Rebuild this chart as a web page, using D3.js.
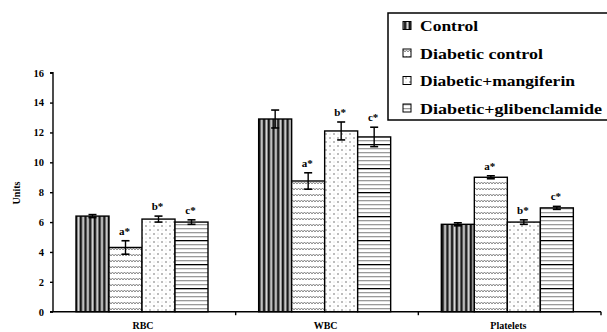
<!DOCTYPE html>
<html><head><meta charset="utf-8">
<script src="https://cdn.jsdelivr.net/npm/d3@7"></script>
<style>
html,body{margin:0;padding:0;background:#fff;}
svg text{font-family:"Liberation Serif","Tinos","DejaVu Serif",serif !important;font-weight:bold;fill:#000;}
</style></head>
<body>
<svg id="chart" width="607" height="332"></svg>
<script>
const categories = ["RBC", "WBC", "Platelets"];
const seriesNames = ["Control", "Diabetic control", "Diabetic+mangiferin", "Diabetic+glibenclamide"];
const control      = [6.4, 12.9, 5.85];
const diabetic     = [4.3, 8.75, 9.0];
const mangiferin   = [6.2, 12.1, 6.0];
const glibenclamide= [6.0, 11.7, 6.95];
const controlErr   = [0.1, 0.6, 0.1];
const diabeticErr  = [0.45, 0.55, 0.1];
const mangiferinErr= [0.2, 0.6, 0.15];
const glibErr      = [0.15, 0.65, 0.1];
const sigLabels    = ["", "a*", "b*", "c*"];
const yTicks       = [0, 2, 4, 6, 8, 10, 12, 14, 16];
const yLabel       = "Units";

const values = [control, diabetic, mangiferin, glibenclamide];
const errs = [controlErr, diabeticErr, mangiferinErr, glibErr];

const svg = d3.select("#chart");
const defs = svg.append("defs");

// Patterns
const p0 = defs.append("pattern").attr("id","pat0").attr("patternUnits","userSpaceOnUse")
  .attr("width",4.7).attr("height",10);
p0.append("rect").attr("width",4.7).attr("height",10).attr("fill","#8a8a8a");
p0.append("rect").attr("x",0).attr("width",1.7).attr("height",10).attr("fill","#111");
p0.append("rect").attr("x",2.9).attr("width",0.9).attr("height",10).attr("fill","#e0e0e0");

const p1 = defs.append("pattern").attr("id","pat1").attr("patternUnits","userSpaceOnUse")
  .attr("width",6).attr("height",6);
p1.append("rect").attr("width",6).attr("height",6).attr("fill","#fff");
p1.append("path").attr("d","M0,4 L1.5,2 L3,4 L4.5,2 L6,4").attr("fill","none").attr("stroke","#7a7a7a").attr("stroke-width",0.9);

const p2 = defs.append("pattern").attr("id","pat2").attr("patternUnits","userSpaceOnUse")
  .attr("width",8).attr("height",8);
p2.append("rect").attr("width",8).attr("height",8).attr("fill","#fff");
p2.append("path").attr("d","M1,1 L3,3 M3,1 L1,3 M5,5 L7,7 M7,5 L5,7").attr("stroke","#a0a0a0").attr("stroke-width",0.7);
p2.append("circle").attr("cx",6).attr("cy",2).attr("r",0.5).attr("fill","#bbb");
p2.append("circle").attr("cx",2).attr("cy",6).attr("r",0.5).attr("fill","#bbb");

const p3 = defs.append("pattern").attr("id","pat3").attr("patternUnits","userSpaceOnUse")
  .attr("width",10).attr("height",24);
p3.append("rect").attr("width",10).attr("height",24).attr("fill","#fff");
for (let i = 0; i < 6; i++) {
  p3.append("rect").attr("x",0).attr("y",i*4).attr("width",10).attr("height",1.3)
    .attr("fill", i === 0 ? "#000" : "#9a9a9a");
}
const pats = ["url(#pat0)","url(#pat1)","url(#pat2)","url(#pat3)"];

// Scales
const y = d3.scaleLinear().domain([0, 16]).range([311.7, 72.7]);
const x0 = d3.scaleBand().domain(categories).range([53, 601]).paddingInner(0).paddingOuter(0);
const x1 = d3.scaleBand().domain(d3.range(4)).range([23, 155]).paddingInner(0).paddingOuter(0);

// Bars
const g = svg.append("g");
categories.forEach((c, ci) => {
  values.forEach((vals, si) => {
    const bx = x0(c) + x1(si);
    const bw = x1.bandwidth();
    const v = vals[ci], e = errs[si][ci];
    g.append("rect").attr("x", bx).attr("y", y(v)).attr("width", bw).attr("height", y(0) - y(v))
      .attr("fill", pats[si]).attr("stroke", "#000").attr("stroke-width", 1.4);
    const cx = bx + bw / 2;
    g.append("line").attr("x1", cx).attr("x2", cx).attr("y1", y(v + e)).attr("y2", y(v - e))
      .attr("stroke", "#000").attr("stroke-width", 1.4);
    [v + e, v - e].forEach(t => g.append("line").attr("x1", cx - 4).attr("x2", cx + 4)
      .attr("y1", y(t)).attr("y2", y(t)).attr("stroke", "#000").attr("stroke-width", 1.6));
    if (sigLabels[si]) {
      g.append("text").attr("x", cx - 1).attr("y", y(v + e) - 6).attr("text-anchor", "middle")
        .attr("font-size", 11).text(sigLabels[si]);
    }
  });
});

// Y axis
const yAxis = d3.axisLeft(y).tickValues(yTicks).tickSize(3).tickPadding(6).tickFormat(d3.format("d"));
const ya = svg.append("g").attr("transform", "translate(53,0)").call(yAxis);
ya.select(".domain").attr("stroke", "#000").attr("stroke-width", 1.4).attr("d", "M-3,72.7H0V311.7");
ya.selectAll(".tick line").attr("stroke", "#000").attr("stroke-width", 1.4);
ya.selectAll(".tick text").attr("font-size", 10.5);

// X axis
svg.append("line").attr("x1", 50).attr("x2", 601).attr("y1", y(0)).attr("y2", y(0)).attr("stroke", "#000").attr("stroke-width", 1.4);
categories.forEach(c => {
  const bx = x0(c) + x0.bandwidth();
  svg.append("line").attr("x1", bx).attr("x2", bx).attr("y1", y(0)).attr("y2", y(0) + 3.5).attr("stroke", "#000").attr("stroke-width", 1.4);
  svg.append("text").attr("x", x0(c) + (x1.range()[0] + x1.range()[1]) / 2 + 1).attr("y", 328.5).attr("text-anchor", "middle")
    .attr("font-size", 10).text(c);
});

// Y label
svg.append("text").attr("transform", "translate(20,193) rotate(-90)").attr("text-anchor", "middle")
  .attr("font-size", 10).text(yLabel);

// Legend
svg.append("rect").attr("x", 388).attr("y", 13).attr("width", 230).attr("height", 107)
  .attr("fill", "#fff").attr("stroke", "#000").attr("stroke-width", 1.5);
const legY = [31, 58.5, 86, 113.5];
const legW = [58, 123, 155, 182];
seriesNames.forEach((n, i) => {
  svg.append("rect").attr("x", 403).attr("y", legY[i] - 9.5).attr("width", 8).attr("height", 8)
    .attr("fill", pats[i]).attr("stroke", "#000").attr("stroke-width", 1);
  svg.append("text").attr("x", 420).attr("y", legY[i]).attr("font-size", 15.5)
    .attr("textLength", legW[i]).attr("lengthAdjust", "spacingAndGlyphs").text(n);
});
</script>
</body></html>
